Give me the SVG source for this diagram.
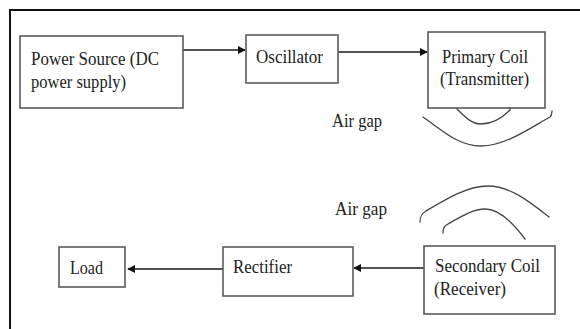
<svg xmlns="http://www.w3.org/2000/svg" width="580" height="329" viewBox="0 0 580 329">
  <style>
    .box { fill: #ffffff; stroke: #5a5a5a; stroke-width: 1.6; }
    .lbl { font-family: "Liberation Serif", "Times New Roman", serif; font-size: 19px; fill: #222222; }
    .wire { stroke: #1a1a1a; stroke-width: 1.4; fill: none; }
    .coil { stroke: #444444; stroke-width: 1.3; fill: none; stroke-linecap: round; }
    .frame { stroke: #111111; stroke-width: 2; fill: none; }
  </style>
  <defs>
    <marker id="arrow" viewBox="0 0 10 10" refX="9" refY="5" markerWidth="8" markerHeight="8" markerUnits="userSpaceOnUse" orient="auto">
      <path d="M0,0 L10,5 L0,10 z" fill="#111111"/>
    </marker>
  </defs>

  <rect width="580" height="329" fill="#ffffff"/>

  <!-- outer frame (top and left edges) -->
  <path class="frame" d="M10,329 L10,10 L580,10"/>

  <!-- connectors -->
  <g id="connectors">
    <line class="wire" x1="183" y1="50" x2="245" y2="50" marker-end="url(#arrow)"/>
    <line class="wire" x1="338" y1="52" x2="427" y2="52" marker-end="url(#arrow)"/>
    <line class="wire" x1="424" y1="268" x2="354" y2="268" marker-end="url(#arrow)"/>
    <line class="wire" x1="223" y1="269" x2="128" y2="269" marker-end="url(#arrow)"/>
  </g>

  <g id="power-source">
    <rect class="box" x="20" y="36" width="163" height="72"/>
    <text class="lbl" x="31" y="65" textLength="128" lengthAdjust="spacingAndGlyphs">Power Source (DC</text>
    <text class="lbl" x="31" y="88" textLength="95" lengthAdjust="spacingAndGlyphs">power supply)</text>
  </g>

  <g id="oscillator">
    <rect class="box" x="246" y="35" width="92" height="48"/>
    <text class="lbl" x="256" y="63" textLength="67" lengthAdjust="spacingAndGlyphs">Oscillator</text>
  </g>

  <g id="primary-coil">
    <rect class="box" x="428" y="32" width="117" height="76"/>
    <text class="lbl" x="442" y="63" textLength="86" lengthAdjust="spacingAndGlyphs">Primary Coil</text>
    <text class="lbl" x="440" y="85" textLength="89" lengthAdjust="spacingAndGlyphs">(Transmitter)</text>
  </g>

  <!-- field lines under the transmitter -->
  <g id="primary-winding">
    <path class="coil" d="M457,109 C466,118 472,124 481,124 C492,124 503,117 510,110 L510,108"/>
    <path class="coil" d="M423,117 C442,130 458,146 481,146 C505,146 530,128 550,117 C552,115 552,113 552,111"/>
  </g>

  <text class="lbl" x="332" y="127" textLength="50" lengthAdjust="spacingAndGlyphs">Air gap</text>
  <text class="lbl" x="335" y="215" textLength="52" lengthAdjust="spacingAndGlyphs">Air gap</text>

  <!-- field lines above the receiver -->
  <g id="secondary-winding">
    <path class="coil" d="M420,222 C420,217 421,214 426,211 C448,198 468,186 488,186 C510,186 530,202 549,217"/>
    <path class="coil" d="M443,233 C443,228 444,226 448,224 C462,216 473,209 485,209 C500,209 514,224 525,239"/>
  </g>

  <g id="secondary-coil">
    <rect class="box" x="424" y="246" width="131" height="68"/>
    <text class="lbl" x="435" y="272" textLength="105" lengthAdjust="spacingAndGlyphs">Secondary Coil</text>
    <text class="lbl" x="434" y="295" textLength="72" lengthAdjust="spacingAndGlyphs">(Receiver)</text>
  </g>

  <g id="rectifier">
    <rect class="box" x="223" y="247" width="130" height="49"/>
    <text class="lbl" x="233" y="273" textLength="59" lengthAdjust="spacingAndGlyphs">Rectifier</text>
  </g>

  <g id="load">
    <rect class="box" x="59" y="247" width="66" height="40"/>
    <text class="lbl" x="70" y="274" textLength="33" lengthAdjust="spacingAndGlyphs">Load</text>
  </g>
</svg>
